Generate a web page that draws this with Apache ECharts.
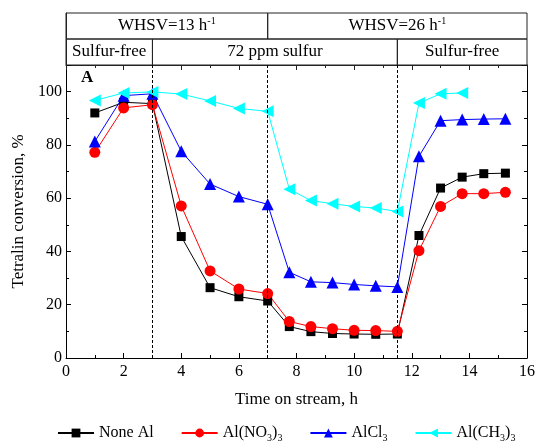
<!DOCTYPE html>
<html>
<head>
<meta charset="utf-8">
<script src="https://cdn.jsdelivr.net/npm/echarts@6/dist/echarts.min.js"></script>
<style>
html,body{margin:0;padding:0;background:#fff;}
#chart{width:548px;height:441px;}
</style>
</head>
<body>
<div id="chart"></div>
<script>
// 时间 (h) 与各样品的四氢萘转化率 (%)
var timeOnStream = [1, 2, 3, 4, 5, 6, 7, 7.75, 8.5, 9.25, 10, 10.75, 11.5, 12.25, 13, 13.75, 14.5, 15.25];
var noneAl  = [92, 96, 95.5, 45.6, 26.4, 23, 21.4, 11.8, 9.9, 9.2, 9.0, 8.9, 9.0, 46, 63.8, 67.9, 69.2, 69.4];
var alNO3   = [77.2, 93.9, 95.1, 57.1, 32.7, 25.9, 24.2, 13.7, 11.8, 11, 10.4, 10.3, 10.0, 40.3, 56.9, 61.7, 61.7, 62.2];
var alCl3   = [81.3, 98.5, 99.2, 77.6, 65.3, 60.6, 57.7, 32.2, 28.6, 28.3, 27.6, 27.1, 26.7, 75.7, 89.1, 89.5, 89.7, 89.8];
var alCH3   = [96.7, 99.5, 99.9, 99.1, 96.5, 93.7, 92.6, 63.4, 59.1, 57.9, 56.9, 56.3, 55, 95.7, 99.2, 99.5];

var seriesNames = ['None Al', 'Al(NO3)3', 'AlCl3', 'Al(CH3)3'];
var legendRich = {
    'None Al': '{n|None Al}',
    'Al(NO3)3': '{n|Al(NO}{s|3}{n|)}{s|3}',
    'AlCl3': '{n|AlCl}{s|3}',
    'Al(CH3)3': '{n|Al(CH}{s|3}{n|)}{s|3}'
};

// 阶段切换时间及表头
var switchTimes = [3, 7, 11.5];
var whsvBounds = [0, 7, 16];
var whsvLabels = ['{n|WHSV=13 h}{p|-1}', '{n|WHSV=26 h}{p|-1}'];
var feedBounds = [0, 3, 11.5, 16];
var feedLabels = ['Sulfur-free', '72 ppm sulfur', 'Sulfur-free'];

var FONT = 'Liberation Serif';

function pairs(ys){
    var out = [];
    for (var i = 0; i < ys.length; i++) out.push([timeOnStream[i], ys[i]]);
    return out;
}

var cells = [];
for (var i = 0; i < whsvLabels.length; i++) {
    cells.push([{xAxis: whsvBounds[i], yAxis: 1, name: whsvLabels[i]}, {xAxis: whsvBounds[i + 1], yAxis: 2}]);
}
for (var j = 0; j < feedLabels.length; j++) {
    cells.push([{xAxis: feedBounds[j], yAxis: 0, name: '{n|' + feedLabels[j] + '}'}, {xAxis: feedBounds[j + 1], yAxis: 1}]);
}

var myChart = echarts.init(document.getElementById('chart'));
var option = {
    animation: false,
    backgroundColor: '#fff',
    textStyle: {fontFamily: FONT, color: '#000'},
    title: {
        text: 'A', left: 76, top: 64,
        textStyle: {fontFamily: FONT, fontSize: 17, fontWeight: 'bold', color: '#000'}
    },
    grid: [
        {left: 66, right: 21, top: 65, bottom: 83},
        {left: 66, right: 21, top: 13, height: 52}
    ],
    legend: {
        data: seriesNames,
        top: 418,
        left: 52,
        itemGap: 27,
        itemWidth: 36,
        itemHeight: 11,
        formatter: function(name){ return legendRich[name]; },
        textStyle: {
            fontFamily: FONT, color: '#000',
            rich: {
                n: {fontFamily: FONT, fontSize: 16, lineHeight: 20, color: '#000'},
                s: {fontFamily: FONT, fontSize: 10, lineHeight: 20, verticalAlign: 'bottom', padding: [10, 0, 0, 0], color: '#000'}
            }
        }
    },
    xAxis: [
        {
            type: 'value', gridIndex: 0, min: 0, max: 16, interval: 2,
            name: 'Time on stream, h', nameLocation: 'middle', nameGap: 33,
            nameTextStyle: {fontFamily: FONT, fontSize: 17, color: '#000'},
            axisLine: {onZero: false, lineStyle: {color: '#000', width: 1}},
            axisTick: {inside: true, length: 5, lineStyle: {color: '#000'}},
            minorTick: {show: true, splitNumber: 2, length: 3, lineStyle: {color: '#000'}},
            axisLabel: {fontFamily: FONT, fontSize: 16, color: '#000', margin: 6},
            splitLine: {show: false}
        },
        {
            type: 'value', gridIndex: 1, min: 0, max: 16, interval: 2, position: 'top',
            axisLine: {lineStyle: {color: '#222', width: 1}},
            axisTick: {inside: true, length: 5, lineStyle: {color: '#222'}},
            minorTick: {show: true, splitNumber: 2, length: 3, lineStyle: {color: '#222'}},
            axisLabel: {show: false},
            splitLine: {show: false}
        }
    ],
    yAxis: [
        {
            type: 'value', gridIndex: 0, min: 0, max: 110, interval: 20,
            name: 'Tetralin conversion, %', nameLocation: 'middle', nameGap: 37,
            nameTextStyle: {fontFamily: FONT, fontSize: 17, color: '#000'},
            axisLine: {show: true, lineStyle: {color: '#000', width: 1}},
            axisTick: {inside: true, length: 5, lineStyle: {color: '#000'}},
            minorTick: {show: true, splitNumber: 2, length: 3, lineStyle: {color: '#000'}},
            axisLabel: {fontFamily: FONT, fontSize: 16, color: '#000', showMaxLabel: false, margin: 4},
            splitLine: {show: false}
        },
        {
            type: 'value', gridIndex: 0, min: 0, max: 110, interval: 20, position: 'right',
            axisLine: {show: true, lineStyle: {color: '#000', width: 1}},
            axisTick: {inside: true, length: 5, lineStyle: {color: '#000'}},
            minorTick: {show: true, splitNumber: 2, length: 3, lineStyle: {color: '#000'}},
            axisLabel: {show: false},
            splitLine: {show: false}
        },
        {
            type: 'value', gridIndex: 1, min: 0, max: 2,
            axisLine: {show: true, lineStyle: {color: '#222'}},
            axisTick: {show: false}, axisLabel: {show: false}, splitLine: {show: false}
        }
    ],
    series: [
        {
            name: 'None Al', type: 'line', data: pairs(noneAl),
            symbol: 'rect', symbolSize: 9,
            itemStyle: {color: '#000'}, lineStyle: {color: '#000', width: 1},
            markLine: {
                silent: true, symbol: 'none', label: {show: false},
                lineStyle: {color: '#000', type: [3, 2], width: 1},
                data: switchTimes.map(function(t){ return {xAxis: t}; })
            }
        },
        {
            name: 'Al(NO3)3', type: 'line', data: pairs(alNO3),
            symbol: 'circle', symbolSize: 11,
            itemStyle: {color: '#ff0000'}, lineStyle: {color: '#ff0000', width: 1}
        },
        {
            name: 'AlCl3', type: 'line', data: pairs(alCl3),
            symbol: 'triangle', symbolSize: 12,
            itemStyle: {color: '#0000ff'}, lineStyle: {color: '#0000ff', width: 1}
        },
        {
            name: 'Al(CH3)3', type: 'line', data: pairs(alCH3),
            symbol: 'triangle', symbolSize: 12, symbolRotate: 90,
            itemStyle: {color: '#00ffff'}, lineStyle: {color: '#00ffff', width: 1}
        },
        {
            name: 'header', type: 'line', xAxisIndex: 1, yAxisIndex: 2,
            data: [[0, 0]], showSymbol: false, lineStyle: {opacity: 0},
            markArea: {
                silent: true,
                itemStyle: {color: 'rgba(0,0,0,0)', borderColor: '#222', borderWidth: 1},
                label: {
                    show: true, position: 'inside',
                    formatter: function(p){ return p.name; },
                    rich: {
                        n: {fontFamily: FONT, fontSize: 17, lineHeight: 20, color: '#000'},
                        p: {fontFamily: FONT, fontSize: 10, lineHeight: 20, verticalAlign: 'top', color: '#000'}
                    }
                },
                data: cells
            }
        }
    ]
};
myChart.setOption(option);
</script>
</body>
</html>
